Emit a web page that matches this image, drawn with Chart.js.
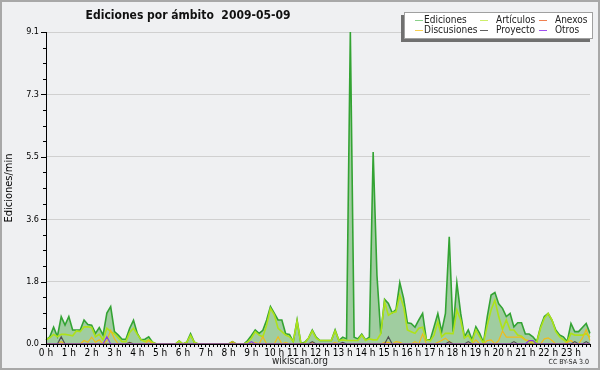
<!DOCTYPE html>
<html><head><meta charset="utf-8">
<script src="https://cdn.jsdelivr.net/npm/chart.js@4.4.1/dist/chart.umd.min.js"></script>
<style>html,body{margin:0;padding:0;background:#eff0f2;}canvas{display:block}</style>
</head><body>
<canvas id="c" width="600" height="370"></canvas>
<script>
// 10-minute slots of 2009-05-09
const slots = [];
for (let h = 0; h < 24; h++) for (let m = 0; m < 60; m += 10) slots.push(h + ':' + String(m).padStart(2, '0'));
const hourLabels = ['0 h','1 h','2 h','3 h','4 h','5 h','6 h','7 h','8 h','9 h','10 h','11 h','12 h','13 h','14 h','15 h','16 h','17 h','18 h','19 h','20 h','21 h','22 h','23 h'];
const yMax = 9.1;

const ediciones = [
 0.12,0.21,0.49,0.22,0.80,0.55,0.80,0.41,0.41,0.41,0.70,0.57,
 0.55,0.31,0.48,0.26,0.90,1.09,0.36,0.26,0.14,0.14,0.46,0.69,
 0.31,0.12,0.14,0.21,0.05,0,0,0,0,0,0,0.09,
 0,0.05,0.30,0.05,0,0,0,0,0,0,0,0,
 0,0.07,0,0,0,0.10,0.25,0.41,0.31,0.40,0.70,1.09,
 0.90,0.70,0.70,0.30,0.28,0.07,0.70,0.02,0.05,0.17,0.41,0.20,
 0.10,0.10,0.10,0.10,0.41,0.10,0.20,0.15,9.10,0.20,0.15,0.29,
 0.12,0.20,5.60,2.00,0.30,1.30,1.18,0.91,1.00,1.79,1.33,0.62,
 0.60,0.49,0.70,0.89,0.12,0.12,0.50,0.89,0.36,0.89,3.13,0.36,
 1.79,0.90,0.21,0.41,0.12,0.50,0.31,0.04,0.80,1.43,1.50,1.17,
 1.04,0.80,0.89,0.50,0.62,0.62,0.29,0.29,0.21,0.07,0.50,0.80,
 0.89,0.70,0.41,0.26,0.21,0.07,0.60,0.36,0.36,0.48,0.60,0.31
];
const articulos = [
 0.12,0.18,0.28,0.21,0.28,0.28,0.26,0.24,0.38,0.36,0.50,0.50,
 0.48,0.21,0.28,0.12,0.46,0.36,0.30,0.18,0.07,0.07,0.34,0.46,
 0.28,0.12,0.07,0.12,0.05,0,0,0,0,0,0,0.09,
 0,0.05,0.25,0.05,0,0,0,0,0,0,0,0,
 0,0,0,0,0,0.05,0.17,0.36,0.26,0.21,0.55,1.04,
 0.85,0.46,0.36,0.26,0.21,0.07,0.67,0.02,0.02,0.17,0.38,0.17,
 0.10,0.10,0.10,0.10,0.38,0.10,0.12,0.10,0.10,0.10,0.10,0.26,
 0.10,0.15,0.12,0.12,0.30,1.23,0.84,0.91,0.94,1.43,1.09,0.41,
 0.36,0.31,0.46,0.49,0.12,0.09,0.26,0.65,0.21,0.31,0.31,0.30,
 0.99,0.70,0.17,0.26,0.07,0.41,0.21,0.02,0.55,0.99,1.28,0.80,
 0.43,0.70,0.41,0.41,0.26,0.23,0.12,0.07,0.07,0.05,0.46,0.75,
 0.89,0.70,0.36,0.21,0.12,0.05,0.31,0.26,0.26,0.26,0.30,0.20
];
const anexos = [
 0,0,0,0,0,0,0,0,0,0,0,0, 0,0,0,0,0,0,0,0,0,0,0,0,
 0,0,0,0,0,0,0,0,0,0,0,0, 0,0,0,0,0,0,0,0,0,0,0,0,
 0,0,0,0,0,0,0,0,0,0,0,0, 0,0,0,0,0,0,0,0,0,0,0,0,
 0,0,0,0,0,0,0,0,0,0,0,0, 0,0,0,0,0,0,0,0,0,0,0,0,
 0,0,0,0,0,0,0,0,0,0,0,0, 0,0,0,0,0,0,0,0,0,0,0,0,
 0,0,0,0,0,0,0,0,0,0,0,0, 0,0,0,0,0,0,0,0,0,0,0,0
];
const discusiones = [
 0,0,0,0,0.07,0,0,0,0,0,0.10,0.05,
 0.20,0.05,0.12,0,0.10,0.40,0.15,0,0,0,0.05,0,
 0,0,0,0.10,0,0,0,0,0,0,0,0,
 0,0,0,0,0,0,0,0,0,0,0,0,
 0,0.07,0,0,0,0,0,0.05,0,0.21,0,0,
 0,0.21,0,0.05,0,0,0,0,0,0,0.05,0,
 0,0,0,0,0.05,0,0,0,0,0,0,0,
 0,0,0,0,0,0.05,0.05,0,0.07,0.05,0,0,
 0,0.07,0,0.29,0,0,0,0.05,0.10,0.17,0.07,0,
 0,0,0,0,0,0.12,0,0,0.10,0.12,0,0.10,
 0.38,0.20,0.20,0.20,0.20,0.20,0.12,0.10,0,0,0,0.15,
 0.18,0.10,0,0,0,0.05,0.10,0,0,0.17,0.42,0.10
];
const proyecto = [
 0,0,0,0,0.21,0,0,0,0,0,0,0,
 0,0,0,0,0,0,0,0,0,0,0.05,0,
 0,0,0,0,0,0,0,0,0,0,0,0,
 0,0,0,0,0,0,0,0,0,0,0,0,
 0,0,0,0,0,0,0,0,0,0,0,0,
 0,0,0,0,0,0,0,0,0,0,0.07,0,
 0,0,0,0,0,0,0.05,0,0,0,0,0,
 0,0,0,0,0,0,0.21,0,0,0,0,0,
 0,0,0,0,0,0,0,0,0,0,0.07,0,
 0,0,0,0.07,0,0,0,0,0,0,0,0,
 0,0,0,0.07,0,0,0,0,0,0,0,0,
 0,0,0,0,0,0,0,0.07,0,0,0.07,0
];
const otros = [
 0,0,0,0,0,0,0,0,0,0,0,0,
 0,0,0,0,0.21,0,0,0,0,0,0,0,
 0,0,0,0,0,0,0,0,0,0,0,0,
 0,0,0,0,0,0,0,0,0,0,0,0,
 0,0,0,0,0,0,0.07,0,0,0,0,0,
 0,0,0,0,0,0,0,0,0,0,0,0,
 0,0,0,0,0,0,0,0,0,0,0,0,
 0,0,0,0,0,0,0,0,0,0,0,0,
 0,0,0,0,0,0,0,0,0,0,0,0,
 0,0,0,0,0,0,0,0,0,0,0,0,
 0,0,0,0,0,0,0,0.10,0.10,0,0,0,
 0,0,0,0,0,0,0,0,0,0,0,0
];

const seriesNames = ['Ediciones','Artículos','Anexos','Discusiones','Proyecto','Otros'];
const lineColors = ['#33a333','#aee21a','#f07830','#f0bc18','#505050','#8a3ce0'];
const legendColors = ['#8ad08a','#cdee6a','#f08050','#f8d050','#606060','#a050f0'];

const F = '"DejaVu Sans Condensed", "DejaVu Sans", sans-serif';
const BG = '#eff0f2';

const deco = {
  id: 'deco',
  beforeDraw(chart) {
    const c = chart.ctx;
    c.save(); c.fillStyle = BG; c.fillRect(0, 0, chart.width, chart.height); c.restore();
  },
  afterDatasetsDraw(chart) {
    const c = chart.ctx, a = chart.chartArea, ys = chart.scales.y;
    c.save();
    c.strokeStyle = '#000'; c.lineWidth = 1;
    c.beginPath();
    c.moveTo(Math.round(a.left) + 0.5, a.top); c.lineTo(Math.round(a.left) + 0.5, Math.round(a.bottom) + 0.5);
    c.moveTo(a.left, Math.round(a.bottom) + 0.5); c.lineTo(a.right, Math.round(a.bottom) + 0.5);
    ys.ticks.forEach((t, i) => {
      const py = Math.round(ys.getPixelForValue(t.value)) + 0.5;
      const len = i % 4 === 0 ? 5 : 3;
      c.moveTo(Math.round(a.left) - len, py); c.lineTo(Math.round(a.left), py);
    });
    c.stroke();

    // title
    c.fillStyle = '#111';
    c.font = 'bold 12px ' + F;
    c.textAlign = 'center'; c.textBaseline = 'alphabetic';
    c.fillText('Ediciones por ámbito  2009-05-09', 188, 19);

    // legend
    const lx = 404, ly = 12, lw = 189, lh = 27;
    c.fillStyle = '#707070'; c.fillRect(lx - 3, ly + 3, lw, lh);
    c.fillStyle = '#ffffff'; c.fillRect(lx, ly, lw, lh);
    c.strokeStyle = '#a0a0a0'; c.strokeRect(lx + 0.5, ly + 0.5, lw - 1, lh - 1);
    const colLine = [415, 480, 539], colText = [424, 496, 555], rowY = [20, 30];
    c.font = '10px ' + F; c.textAlign = 'left'; c.textBaseline = 'middle';
    chart.data.datasets.forEach((ds, i) => {
      const col = i % 3, row = Math.floor(i / 3);
      c.strokeStyle = legendColors[i]; c.lineWidth = 1;
      c.beginPath(); c.moveTo(colLine[col], rowY[row] + 0.5); c.lineTo(colLine[col] + 8, rowY[row] + 0.5); c.stroke();
      c.fillStyle = '#222'; c.fillText(ds.label, colText[col], rowY[row]);
    });

    // footer
    c.fillStyle = '#222'; c.font = '10px ' + F; c.textAlign = 'center';
    c.fillText('wikiscan.org', 300, 361);
    c.font = '7px ' + F; c.textAlign = 'right';
    c.fillText('CC BY-SA 3.0', 589, 362);

    // frame
    c.strokeStyle = '#a8a8a8'; c.lineWidth = 2;
    c.strokeRect(1, 1, chart.width - 2, chart.height - 2);
    c.restore();
  }
};

const dsData = [ediciones, articulos, anexos, discusiones, proyecto, otros];
const orders = [10, 5, 4, 3, 2, 1];
const datasets = seriesNames.map((n, i) => ({
  label: n, data: dsData[i], borderColor: lineColors[i],
  backgroundColor: i === 0 ? '#a0cda0' : lineColors[i],
  fill: i === 0 ? 'origin' : false,
  borderWidth: i <= 1 ? 1.6 : 1.2, order: orders[i]
}));

new Chart(document.getElementById('c'), {
  type: 'line',
  data: { labels: slots, datasets },
  options: {
    animation: false, responsive: false, devicePixelRatio: 1,
    layout: { padding: { left: 0, right: 10, top: 32, bottom: 10 } },
    elements: { point: { radius: 0, hoverRadius: 0 }, line: { tension: 0 } },
    plugins: { legend: { display: false }, tooltip: { enabled: false }, title: { display: false } },
    scales: {
      x: {
        type: 'category', offset: false,
        grid: { drawOnChartArea: false, drawTicks: true, tickLength: 3, color: '#000', tickColor: '#000' },
        border: { display: false },
        ticks: { autoSkip: false, maxRotation: 0, minRotation: 0, padding: 0, color: '#000',
                 font: { family: F, size: 10 },
                 callback: (v, i) => (i % 6 === 0 ? hourLabels[i / 6] : '') },
        afterFit: (s) => { s.height = 16; }
      },
      y: {
        min: 0, max: yMax,
        ticks: { stepSize: yMax / 20, autoSkip: false, padding: 7, color: '#000',
                 font: { family: F, size: 9 },
                 callback: (v, i) => (i % 4 === 0 ? v.toFixed(1) : '') },
        grid: { drawTicks: false, color: (ctx) => (ctx.index % 4 === 0 ? '#d0d0d0' : 'rgba(0,0,0,0)') },
        border: { display: false },
        title: { display: true, text: 'Ediciones/min', color: '#000', font: { family: F, size: 11 }, padding: { top: 3, bottom: 0 } },
        afterFit: (s) => { s.width = 46; }
      }
    }
  },
  plugins: [deco]
});
</script>
</body></html>
